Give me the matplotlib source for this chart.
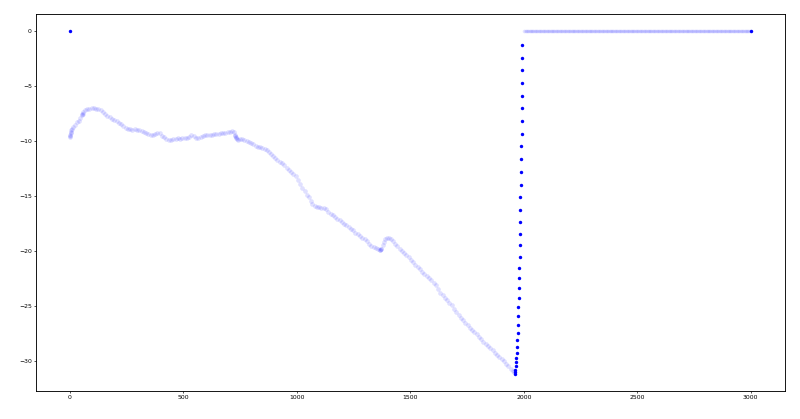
import matplotlib
matplotlib.use("Agg")
import matplotlib.pyplot as plt
import numpy as np

# faint trajectory (x, y)
path_x = [0, 1, 2, 3, 4, 6, 10, 15, 22, 30, 38, 45, 52, 54, 56, 58, 65, 75, 85, 95,
          105, 115, 125, 135, 145, 155, 165, 175, 185, 195, 205, 215, 225, 235, 245,
          255, 265, 275, 285, 295, 305, 315, 325, 335, 345, 355, 365, 375, 385, 395,
          405, 415, 425, 435, 445, 455, 465, 475, 485, 495, 505, 515, 525, 535, 545,
          555, 565, 575, 585, 595, 605, 615, 625, 635, 645, 655, 665, 675, 685, 695,
          705, 715, 722, 726, 728, 730, 732, 734, 740, 748, 758, 768, 778, 788, 798,
          808, 818, 828, 838, 848, 858, 868, 876, 884, 894, 904, 914, 924, 934, 944,
          954, 964, 974, 984, 994, 1004, 1014, 1024, 1034, 1044, 1052, 1060, 1068, 1078,
          1088, 1098, 1108, 1118, 1128, 1138, 1148, 1158, 1168, 1178, 1188, 1198, 1208,
          1218, 1228, 1238, 1248, 1258, 1268, 1278, 1288, 1298, 1308, 1318, 1328, 1338,
          1348, 1358, 1366, 1368, 1370, 1372, 1378, 1384, 1390, 1398, 1406, 1414, 1422,
          1432, 1442, 1452, 1462, 1472, 1482, 1492, 1502, 1512, 1522, 1532, 1542, 1552,
          1562, 1572, 1582, 1592, 1602, 1612, 1622, 1632, 1642, 1652, 1662, 1672, 1682,
          1692, 1702, 1712, 1722, 1732, 1742, 1752, 1762, 1772, 1782, 1792, 1802, 1812,
          1822, 1832, 1842, 1852, 1862, 1872, 1882, 1892, 1902, 1912, 1922, 1932, 1942,
          1950, 1956]
path_y = [-9.6, -9.5, -9.4, -9.3, -9.2, -9.0, -8.9, -8.7, -8.5, -8.3, -8.2, -7.9, -7.6,
          -7.55, -7.5, -7.4, -7.2, -7.1, -7.05, -7.0, -7.0, -7.05, -7.1, -7.2, -7.35,
          -7.5, -7.7, -7.85, -8.0, -8.1, -8.2, -8.35, -8.45, -8.6, -8.8, -8.9, -8.9,
          -8.95, -8.9, -8.95, -9.0, -9.05, -9.15, -9.3, -9.35, -9.4, -9.45, -9.35, -9.25,
          -9.3, -9.5, -9.65, -9.8, -9.9, -9.9, -9.85, -9.8, -9.75, -9.8, -9.75, -9.7,
          -9.75, -9.6, -9.45, -9.55, -9.7, -9.75, -9.65, -9.5, -9.45, -9.45, -9.4, -9.4,
          -9.35, -9.35, -9.35, -9.3, -9.3, -9.25, -9.2, -9.15, -9.1, -9.2, -9.4, -9.5,
          -9.6, -9.7, -9.85, -9.9, -9.8, -9.8, -9.9, -9.95, -10.05, -10.2, -10.3, -10.4,
          -10.5, -10.55, -10.6, -10.7, -10.8, -11.0, -11.15, -11.35, -11.55, -11.7,
          -11.85, -12.0, -12.2, -12.4, -12.6, -12.8, -13.0, -13.2, -13.55, -13.9, -14.25,
          -14.55, -14.85, -15.1, -15.45, -15.7, -15.85, -15.95, -16.0, -16.05, -16.1,
          -16.2, -16.4, -16.6, -16.75, -16.9, -17.05, -17.2, -17.35, -17.5, -17.65,
          -17.8, -17.95, -18.1, -18.3, -18.45, -18.6, -18.75, -18.9, -19.1, -19.3, -19.5,
          -19.6, -19.7, -19.8, -19.9, -19.85, -19.8, -19.75, -19.45, -19.15, -18.9,
          -18.75, -18.75, -18.9, -19.05, -19.3, -19.55, -19.8, -20.0, -20.15, -20.35,
          -20.55, -20.75, -20.95, -21.2, -21.45, -21.65, -21.85, -22.05, -22.25, -22.45,
          -22.65, -22.85, -23.1, -23.4, -23.75, -24.0, -24.2, -24.45, -24.65, -24.9,
          -25.2, -25.5, -25.8, -26.05, -26.25, -26.5, -26.7, -26.95, -27.15, -27.35,
          -27.55, -27.75, -27.95, -28.2, -28.4, -28.6, -28.8, -29.0, -29.2, -29.4, -29.6,
          -29.8, -30.0, -30.25, -30.45, -30.65, -30.85, -31.0]

# flat faint segment at zero
flat_start, flat_end, flat_n = 2000, 3000, 401

# solid points: the climbing column plus the two end markers
col_x = [1994, 1993, 1993, 1992, 1992, 1991, 1990, 1990, 1989, 1988, 1987, 1986, 1985,
         1985, 1984, 1983, 1982, 1981, 1980, 1979, 1978, 1977, 1975, 1974, 1973, 1972,
         1971, 1970, 1968, 1967, 1966, 1965, 1963, 1962, 1961]
col_y = [-1.27, -2.43, -3.57, -4.73, -5.88, -7.03, -8.18, -9.34, -10.48, -11.64, -12.79,
         -13.94, -15.09, -16.25, -17.34, -18.43, -19.45, -20.48, -21.48, -22.43, -23.34,
         -24.25, -25.09, -25.91, -26.66, -27.39, -28.06, -28.66, -29.21, -29.66, -30.09,
         -30.45, -30.75, -30.98, -31.12]
end_x = [0, 3000]
end_y = [0, 0]

fig, ax = plt.subplots(figsize=(20, 10.475), dpi=40)

flat_x = np.linspace(flat_start, flat_end, flat_n)
ax.scatter(path_x, path_y, s=70, color="b", alpha=0.12, linewidths=0)
ax.scatter(flat_x, np.zeros_like(flat_x), s=45, color="b", alpha=0.05, linewidths=0)
ax.scatter(col_x, col_y, s=38, color="b", linewidths=0)
ax.scatter(end_x, end_y, s=38, color="b", linewidths=0)

ax.tick_params(labelsize=11, length=4, width=1.2)
for sp in ax.spines.values():
    sp.set_linewidth(1.6)

plt.subplots_adjust(left=0.045, right=0.981, bottom=0.067, top=0.967)
fig.savefig("out.png", dpi=40, facecolor="white")
